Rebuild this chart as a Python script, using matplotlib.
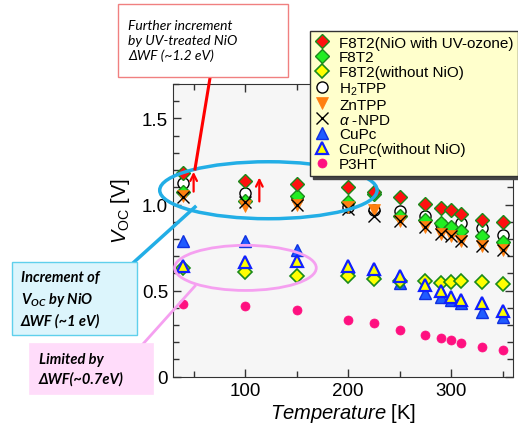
import matplotlib
matplotlib.use("Agg")
import matplotlib.pyplot as plt
from matplotlib.patches import Ellipse, Rectangle
from matplotlib.lines import Line2D
from matplotlib.ticker import MultipleLocator, FixedLocator

plt.rcParams['font.family'] = ['Liberation Sans', 'DejaVu Sans']
plt.rcParams['mathtext.fontset'] = 'custom'
plt.rcParams['mathtext.rm'] = 'Liberation Sans'
plt.rcParams['mathtext.it'] = 'Liberation Sans:italic'
plt.rcParams['mathtext.bf'] = 'Lato:bold:italic'

T = [40, 100, 150, 200, 225, 250, 275, 290, 300, 310, 330, 350]

f8t2_uv = [1.184, 1.134, 1.12, 1.101, 1.072, 1.043, 1.004, 0.979, 0.969, 0.946, 0.913, 0.901]
f8t2 = [1.072, 1.023, 1.052, 1.014, 1.062, 0.936, 0.91, 0.894, 0.87, 0.849, 0.82, 0.785]
f8t2_wo = [0.63, 0.607, 0.587, 0.584, 0.568, 0.558, 0.553, 0.545, 0.549, 0.558, 0.549, 0.539]
h2tpp = [1.126, 1.066, 1.037, 0.985, 0.971, 0.965, 0.936, 0.885, 0.863, 0.894, 0.863, 0.824]
zntpp = [1.05, 0.994, 1.0, 0.988, 0.971, 0.907, 0.869, 0.83, 0.816, 0.791, 0.762, 0.737]
anpd = [1.043, 1.014, 0.998, 0.975, 0.933, 0.907, 0.872, 0.83, 0.818, 0.79, 0.76, 0.735]
cupc = [0.791, 0.791, 0.733, 0.635, 0.607, 0.545, 0.488, 0.465, 0.448, 0.428, 0.378, 0.345]
cupc_wo = [0.645, 0.665, 0.674, 0.645, 0.626, 0.584, 0.533, 0.5, 0.461, 0.448, 0.427, 0.384]
p3ht = [0.423, 0.413, 0.39, 0.331, 0.312, 0.273, 0.243, 0.223, 0.213, 0.194, 0.171, 0.155]

labels = ['F8T2(NiO with UV-ozone)', 'F8T2', 'F8T2(without NiO)', 'H$_2$TPP', 'ZnTPP',
          r'$\alpha$ -NPD', 'CuPc', 'CuPc(without NiO)', 'P3HT']

W, H = 518, 435
fig = plt.figure(figsize=(W / 100, H / 100), dpi=100)
ax = fig.add_axes([173 / W, 1 - 377.7 / H, (513 - 173) / W, (377.7 - 85) / H])
ax.set_facecolor('#f6f6f6')

ax.set_xlim(30, 360)
ax.set_ylim(0, 1.7)

kw = dict(linestyle='none', clip_on=False)
hs = {}
hs[6] = ax.plot(T, cupc, marker='^', ms=8, mfc='#1f5bff', mec='#1030e0', mew=1, zorder=3, **kw)[0]
hs[7] = ax.plot(T, cupc_wo, marker='^', ms=8, mfc='#ffff00', mec='#1020ff', mew=1.6, zorder=4, **kw)[0]
hs[2] = ax.plot(T, f8t2_wo, marker='D', ms=7.5, mfc='#ffff00', mec='#1a8a1a', mew=1.2, zorder=3.5, **kw)[0]
hs[8] = ax.plot(T, p3ht, marker='o', ms=6.5, mfc='#ff1080', mec='#ff1080', mew=0.5, zorder=3, **kw)[0]
hs[3] = ax.plot(T, h2tpp, marker='o', ms=8, mfc='white', mec='black', mew=1, zorder=3, **kw)[0]
hs[1] = ax.plot(T, f8t2, marker='D', ms=7.5, mfc='#22ee22', mec='#1a8a1a', mew=1, zorder=3.2, **kw)[0]
hs[4] = ax.plot(T, zntpp, marker='v', ms=8, mfc='#ff7f10', mec='#ff7f10', mew=0.5, zorder=3.4, **kw)[0]
hs[5] = ax.plot(T, anpd, marker='x', ms=8, mfc='black', mec='black', mew=1, zorder=3.6, **kw)[0]
hs[0] = ax.plot(T, f8t2_uv, marker='D', ms=7.5, mfc='#ff1010', mec='#1a8a1a', mew=1, zorder=3.8, **kw)[0]

# ticks
ax.xaxis.set_major_locator(FixedLocator([100, 200, 300]))
ax.xaxis.set_minor_locator(FixedLocator([50, 150, 250, 350]))
ax.yaxis.set_major_locator(FixedLocator([0, 0.5, 1.0, 1.5]))
ax.yaxis.set_minor_locator(MultipleLocator(0.1))
ax.set_yticklabels(['0', '0.5', '1.0', '1.5'])
ax.tick_params(which='both', direction='in', top=True, right=True, labelsize=13.5, colors='#333333',
               labelcolor='black')
ax.tick_params(which='major', length=6, width=1)
ax.tick_params(which='minor', length=4, width=1)
for s in ax.spines.values():
    s.set_color('#333333')

ax.set_xlabel(r'$\it{Temperature}$ [K]', fontsize=14.5, labelpad=2)
ax.set_ylabel(r'$V_{\mathrm{OC}}$ [V]', fontsize=14.5, labelpad=4)
ax.yaxis.set_label_coords(-0.12, 0.57)

# ellipses
ax.add_patch(Ellipse((122.6, 1.083), 211, 0.331, fill=False, edgecolor='#22aee6', lw=2.5,
                     clip_on=False, zorder=5))
ax.add_patch(Ellipse((100.3, 0.632), 137.5, 0.262, fill=False, edgecolor='#f5a0f0', lw=2,
                     clip_on=False, zorder=5))

# red arrows
for x0, y0, y1 in [(50, 1.075, 1.19), (113.8, 1.018, 1.157)]:
    ax.annotate('', xy=(x0, y1), xytext=(x0, y0),
                arrowprops=dict(arrowstyle='->', color='red', lw=1.6, mutation_scale=12,
                                shrinkA=0, shrinkB=0),
                zorder=6)

def fx(px):
    return px / W

def fy(py):
    return 1 - py / H

def box(x0, y0, x1, y1, fc, ec, lw=1):
    fig.add_artist(Rectangle((fx(x0), fy(y1)), fx(x1) - fx(x0), fy(y0) - fy(y1),
                             transform=fig.transFigure, facecolor=fc, edgecolor=ec, lw=lw, zorder=10))

def line(x0, y0, x1, y1, c, lw):
    fig.add_artist(Line2D([fx(x0), fx(x1)], [fy(y0), fy(y1)], transform=fig.transFigure,
                          color=c, lw=lw, zorder=9))

# red annotation
line(210, 79, 195, 170, 'red', 2.2)
box(118, 5, 288, 78, 'white', '#f08080', 1)
fig.text(fx(128), fy(41), 'Further increment\nby UV-treated NiO\nΔWF (~1.2 eV)',
         fontfamily='Lato', style='italic', fontsize=10, va='center', ha='left',
         linespacing=1.3, zorder=11)

# blue annotation
line(133, 264, 195, 208, '#22aee6', 2.5)
box(12, 263, 137, 336, '#dcf5fc', '#5fd0ec', 1)
fig.text(fx(21), fy(299.5), 'Increment of\n$\\mathbf{V}_{\\mathbf{OC}}$ by NiO\nΔWF (~1 eV)',
         fontfamily='Lato', style='italic', fontweight='bold', fontsize=10.5, va='center', ha='left',
         linespacing=1.45, zorder=11)

# pink annotation
line(143, 345, 195, 287, '#f5a0f0', 2)
box(29, 344, 153, 395, '#ffdcfa', '#ffdcfa', 0.5)
fig.text(fx(39), fy(369.5), 'Limited by\nΔWF(~0.7eV)',
         fontfamily='Lato', style='italic', fontweight='bold', fontsize=10.5, va='center', ha='left',
         linespacing=1.45, zorder=11)

leg = fig.legend([hs[i] for i in range(9)], labels, loc='upper left',
                 bbox_to_anchor=(fx(310), fy(32)), bbox_transform=fig.transFigure,
                 fontsize=11, frameon=True, fancybox=False, facecolor='#ffffcc',
                 edgecolor='#333333', framealpha=1, labelspacing=0.06, handlelength=1.0,
                 handletextpad=0.6, borderpad=0.3, borderaxespad=0,
                 shadow={'color': '#444444', 'alpha': 1})
leg.set_zorder(20)

fig.savefig('out.png', dpi=100)
